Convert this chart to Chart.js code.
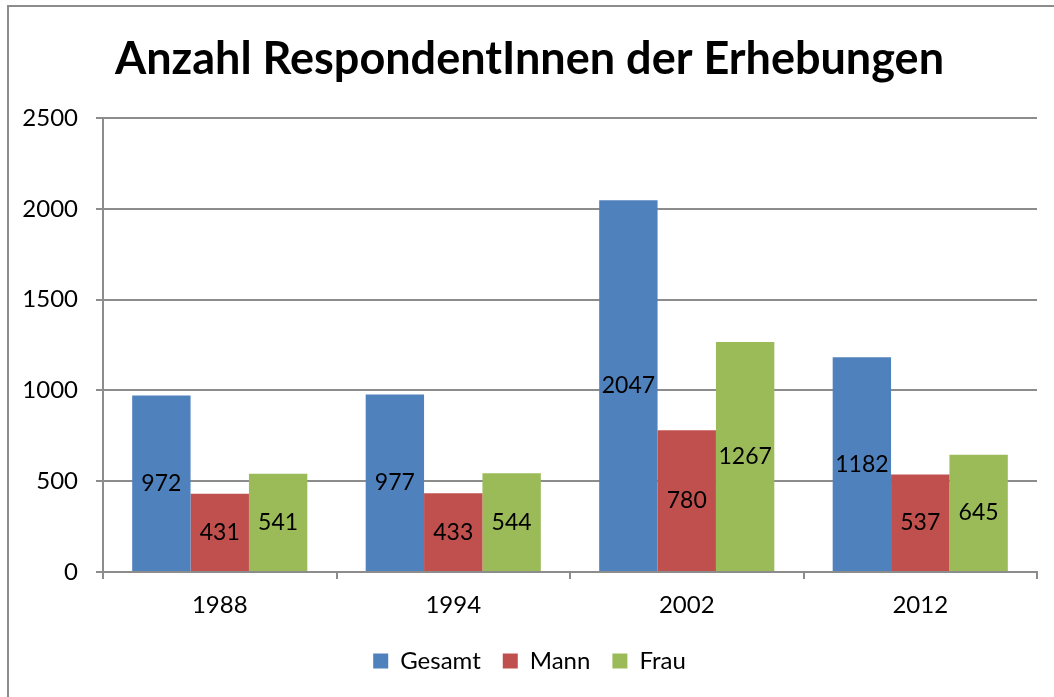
<!DOCTYPE html>
<html>
<head>
<meta charset="utf-8">
<script src="https://cdn.jsdelivr.net/npm/chart.js@4.4.1/dist/chart.umd.min.js"></script>
<style>
  html, body { margin: 0; padding: 0; background: #fff; }
  #wrap { position: relative; width: 1054px; height: 697px; }
  #frame { position: absolute; left: 7px; top: 5px; width: 1047px; height: 692px;
           border-left: 2px solid #8c8c8c; border-top: 2px solid #8c8c8c; box-sizing: border-box; }
  canvas { position: absolute; left: 0; top: 0; }
</style>
</head>
<body>
<div id="wrap">
  <div id="frame"></div>
  <canvas id="chart" width="1054" height="697"></canvas>
</div>
<script>
// values
const years = ['1988', '1994', '2002', '2012'];
const gesamt = [972, 977, 2047, 1182];
const mann = [431, 433, 780, 537];
const frau = [541, 544, 1267, 645];
const yTicks = [0, 500, 1000, 1500, 2000, 2500];

const fontFamily = 'Lato, "Open Sans", sans-serif';

// value labels in the middle of each bar
const barLabels = {
    id: 'barLabels',
    afterDatasetsDraw(chart) {
        const ctx = chart.ctx;
        ctx.save();
        ctx.font = '23px ' + fontFamily;
        ctx.fillStyle = '#000';
        ctx.textAlign = 'center';
        ctx.textBaseline = 'middle';
        chart.data.datasets.forEach((ds, i) => {
            chart.getDatasetMeta(i).data.forEach((bar, j) => {
                const mid = (bar.y + bar.base) / 2;
                ctx.fillText(ds.data[j], bar.x, mid);
            });
        });
        ctx.restore();
    }
};

new Chart(document.getElementById('chart').getContext('2d'), {
    type: 'bar',
    data: {
        labels: years,
        datasets: [
            { label: 'Gesamt', data: gesamt, backgroundColor: '#4F81BD' },
            { label: 'Mann', data: mann, backgroundColor: '#C0504D' },
            { label: 'Frau', data: frau, backgroundColor: '#9BBB59' }
        ]
    },
    options: {
        responsive: false,
        animation: false,
        layout: { padding: { left: 22, right: 17, top: 0, bottom: 14 } },
        datasets: { bar: { categoryPercentage: 0.75, barPercentage: 1.0 } },
        plugins: {
            title: {
                display: true,
                text: 'Anzahl RespondentInnen der Erhebungen',
                color: '#000',
                font: { family: fontFamily, size: 45, weight: 'bold', lineHeight: 1.2 },
                padding: { top: 32, bottom: 32 }
            },
            legend: {
                position: 'bottom',
                labels: {
                    color: '#000',
                    font: { family: fontFamily, size: 24 },
                    boxWidth: 15,
                    boxHeight: 15,
                    padding: 22
                }
            },
            tooltip: { enabled: false }
        },
        scales: {
            x: {
                grid: { drawOnChartArea: false, color: '#8c8c8c', lineWidth: 2, tickLength: 7, offset: true },
                border: { color: '#8c8c8c', width: 2 },
                ticks: { color: '#000', font: { family: fontFamily, size: 24 }, padding: 12 },
                afterFit: s => { s.height = 55; }
            },
            y: {
                min: 0,
                max: 2500,
                afterBuildTicks: s => { s.ticks = yTicks.map(v => ({ value: v })); },
                grid: { color: '#8c8c8c', lineWidth: 2, tickLength: 7 },
                border: { color: '#8c8c8c', width: 2 },
                ticks: {
                    color: '#000',
                    font: { family: fontFamily, size: 24 },
                    padding: 18,
                    callback: v => String(v)
                },
                afterFit: s => { s.width = 81; }
            }
        }
    },
    plugins: [barLabels]
});
</script>
</body>
</html>
